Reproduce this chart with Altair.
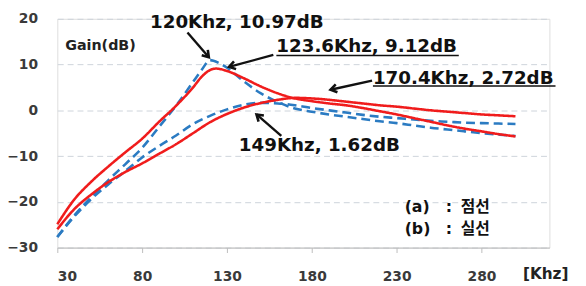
import math
import altair as alt
import pandas as pd

# ---- data ----
blue_a_khz = [30, 40, 50, 60, 70, 80, 90, 100, 110, 115, 120, 125, 130, 140, 150, 160, 170, 180, 190, 200,
              210, 220, 230, 240, 250, 260, 270, 280, 290, 300]
blue_a_db = [-27.7, -23.0, -19.0, -15.3, -11.8, -8.2, -3.6, 1.0, 6.2, 8.8, 10.97, 10.4, 9.3, 6.3, 3.7, 1.8, 0.4,
             -0.3, -0.9, -1.4, -1.9, -2.4, -2.8, -3.3, -3.8, -4.2, -4.6, -5.0, -5.3, -5.6]

blue_b_khz = [30, 40, 50, 60, 70, 80, 90, 100, 110, 120, 130, 140, 149, 160, 170, 180, 190, 200,
              210, 220, 230, 240, 250, 260, 270, 280, 290, 300]
blue_b_db = [-27.7, -23.2, -19.4, -16.2, -13.3, -10.3, -7.8, -5.5, -3.0, -1.2, 0.2, 1.2, 1.62, 1.5, 1.1, 0.5,
             0.0, -0.5, -1.0, -1.4, -1.7, -2.0, -2.3, -2.5, -2.7, -2.8, -2.9, -3.0]

red_a_khz = [30, 40, 50, 60, 70, 80, 90, 100, 110, 115, 120, 123.6, 130, 140, 150, 160, 170, 180, 190, 200,
             210, 220, 230, 240, 250, 260, 270, 280, 290, 300]
red_a_db = [-24.9, -19.5, -15.6, -12.3, -9.2, -6.2, -2.5, 1.0, 5.0, 7.3, 8.8, 9.12, 8.6, 7.0, 5.2, 3.7, 2.6,
            2.0, 1.5, 1.1, 0.5, -0.2, -0.9, -1.7, -2.5, -3.3, -4.0, -4.6, -5.2, -5.7]

red_b_khz = [30, 40, 50, 60, 70, 80, 90, 100, 110, 120, 130, 140, 150, 160, 170.4, 180, 190, 200,
             210, 220, 230, 240, 250, 260, 270, 280, 290, 300]
red_b_db = [-26.0, -21.6, -18.4, -15.7, -13.5, -11.6, -9.5, -7.4, -5.0, -2.6, -0.8, 0.6, 1.6, 2.3, 2.72, 2.6,
            2.3, 1.9, 1.5, 1.1, 0.8, 0.4, 0.0, -0.3, -0.6, -0.9, -1.1, -1.3]

series_names = ["a1", "a2", "b1", "b2"]
series_colors = ["#2b7bc2", "#2b7bc2", "#f01c1c", "#f01c1c"]
series_dash = [[9, 5], [9, 5], [1, 0], [1, 0]]

x_ticks = [30, 80, 130, 180, 230, 280]
y_ticks = [-30, -20, -10, 0, 10, 20]

ann_text = ["120Khz, 10.97dB", "123.6Khz, 9.12dB", "170.4Khz, 2.72dB", "149Khz, 1.62dB"]
ann_x = [84.65, 159.1, 216.0, 137.0]
ann_y = [18.06, 12.7, 5.8, -9.0]

arrow_x0 = [106.7, 157.3, 215.5, 162.0]
arrow_y0 = [17.0, 12.1, 6.5, -5.6]
arrow_x1 = [119.3, 131.2, 191.0, 147.4]
arrow_y1 = [11.6, 9.5, 4.5, -0.9]

under_x0 = [159.1, 216.0]
under_x1 = [266.6, 323.6]
under_y = [12.0, 5.3]

legend_tag = ["(a)", "(b)"]
legend_word = ["점선", "실선"]
legend_y = [-21.1, -26.0]
legend_tag_x = 234.7
legend_colon_x = 260.8
legend_word_x = 267.8

# ---- layout ----
W, H = 499, 232
X_DOM = [30, 320]
Y_DOM = [-30, 20]
FONT = "DejaVu Sans"
KFONT = "Noto Sans CJK KR"

rows = []
for name, xs_, ys_ in zip(series_names, [blue_a_khz, blue_b_khz, red_a_khz, red_b_khz],
                          [blue_a_db, blue_b_db, red_a_db, red_b_db]):
    for x, y in zip(xs_, ys_):
        rows.append({"series": name, "khz": x, "db": y})
df = pd.DataFrame(rows)

xs = alt.Scale(domain=X_DOM, nice=False, zero=False)
ys = alt.Scale(domain=Y_DOM, nice=False, zero=False)

base_x = alt.X("khz:Q", scale=xs, axis=alt.Axis(
    values=x_ticks, title=None, grid=False, domain=True, domainColor="#bdbdbd", domainWidth=1,
    ticks=True, tickColor="#bdbdbd", tickSize=5, labelPadding=17, labelFont=FONT,
    labelFontSize=14, labelFontWeight="bold", labelColor="#3a3a3a"))
base_y = alt.Y("db:Q", scale=ys, axis=alt.Axis(
    values=y_ticks, title=None, grid=True, gridColor="#cdd3da", gridDash=[6, 4], gridWidth=1,
    domain=False, ticks=False, tickSize=0, labelPadding=20, labelFont=FONT, labelFontSize=14,
    labelFontWeight="bold", labelColor="#3a3a3a"))

lines = alt.Chart(df).mark_line(strokeWidth=2.6, interpolate="monotone").encode(
    x=base_x, y=base_y,
    color=alt.Color("series:N", scale=alt.Scale(domain=series_names, range=series_colors), legend=None),
    strokeDash=alt.StrokeDash("series:N", scale=alt.Scale(domain=series_names, range=series_dash), legend=None),
)

ann_df = pd.DataFrame({"x": ann_x, "y": ann_y, "t": ann_text})
ann = alt.Chart(ann_df).mark_text(font=FONT, fontSize=18.5, fontWeight="bold", color="#111111",
                                   align="left", baseline="alphabetic").encode(
    x=alt.X("x:Q", scale=xs), y=alt.Y("y:Q", scale=ys), text="t:N")

pxu = W / (X_DOM[1] - X_DOM[0])
pyu = H / (Y_DOM[1] - Y_DOM[0])
angles = []
for x0, y0, x1, y1 in zip(arrow_x0, arrow_y0, arrow_x1, arrow_y1):
    dx = (x1 - x0) * pxu
    dy = -(y1 - y0) * pyu
    angles.append(math.degrees(math.atan2(dx, -dy)) % 360)
arr_df = pd.DataFrame({"x0": arrow_x0, "y0": arrow_y0, "x1": arrow_x1, "y1": arrow_y1, "ang": angles})
shafts = alt.Chart(arr_df).mark_rule(color="#111111", strokeWidth=2.4).encode(
    x=alt.X("x0:Q", scale=xs), y=alt.Y("y0:Q", scale=ys), x2="x1:Q", y2="y1:Q")
heads = alt.Chart(arr_df).mark_point(
    shape="M -0.55 0.85 L 0 0 L 0.55 0.85", filled=False, color="#111111", strokeWidth=2.6,
    size=220, opacity=1, strokeJoin="miter").encode(
    x=alt.X("x1:Q", scale=xs), y=alt.Y("y1:Q", scale=ys), angle=alt.Angle("ang:Q", scale=None))

ul_df = pd.DataFrame({"x0": under_x0, "x1": under_x1, "y": under_y})
underlines = alt.Chart(ul_df).mark_rule(color="#111111", strokeWidth=1.5).encode(
    x=alt.X("x0:Q", scale=xs), x2="x1:Q", y=alt.Y("y:Q", scale=ys))

leg_df = pd.DataFrame({"y": legend_y, "tag": legend_tag, "word": legend_word,
                       "colon": [":", ":"]})
leg_tag = alt.Chart(leg_df).mark_text(font=FONT, fontSize=16, fontWeight="bold", color="#111111",
                                       align="left").encode(
    x=alt.datum(legend_tag_x, scale=xs), y=alt.Y("y:Q", scale=ys), text="tag:N")
leg_colon = alt.Chart(leg_df).mark_text(font=FONT, fontSize=16, fontWeight="bold", color="#111111",
                                         align="center").encode(
    x=alt.datum(legend_colon_x, scale=xs), y=alt.Y("y:Q", scale=ys), text="colon:N")
leg_word = alt.Chart(leg_df).mark_text(font=KFONT, fontSize=16, fontWeight="bold", color="#111111",
                                        align="left").encode(
    x=alt.datum(legend_word_x, scale=xs), y=alt.Y("y:Q", scale=ys), text="word:N")

misc_df = pd.DataFrame({"x": [34.65, 304.4], "y": [14.0, -35.7], "t": ["Gain(dB)", "[Khz]"],
                        "s": [14.5, 15.5]})
misc = alt.Chart(misc_df).mark_text(font=FONT, fontWeight="bold", color="#222222", align="left").encode(
    x=alt.X("x:Q", scale=xs), y=alt.Y("y:Q", scale=ys), text="t:N",
    size=alt.Size("s:Q", scale=None, legend=None))

chart = alt.layer(lines, shafts, heads, underlines, ann, leg_tag, leg_colon, leg_word, misc).properties(
    width=W, height=H,
    autosize=alt.AutoSizeParams(type="none"),
    padding={"left": 50, "top": 9, "right": 29, "bottom": 37},
).configure_view(stroke=None).configure(background="white")

chart.save("out.html", embed_options={"renderer": "svg", "actions": False})
